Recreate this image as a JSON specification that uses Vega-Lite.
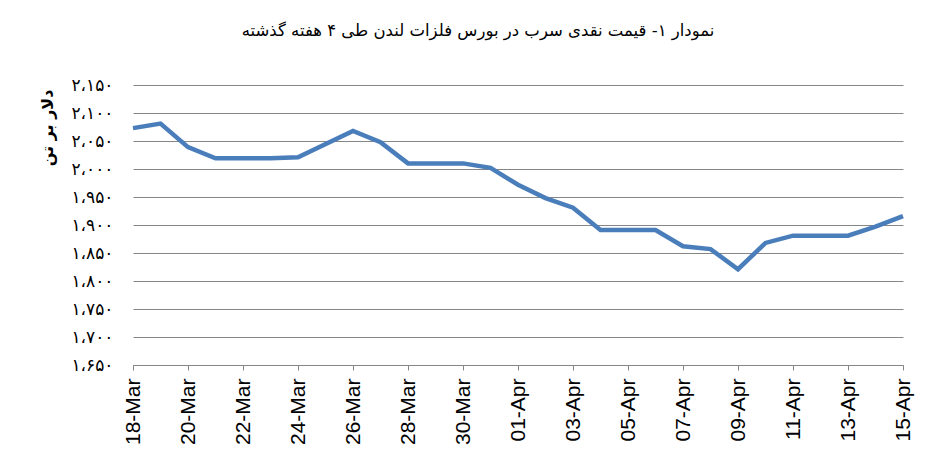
{
  "$schema": "https://vega.github.io/schema/vega-lite/v6.json",
  "width": 770,
  "height": 280,
  "autosize": {"type": "none"},
  "padding": {"left": 133, "top": 85, "right": 46, "bottom": 101},
  "background": "white",
  "title": {
    "text": "نمودار ۱- قیمت نقدی سرب  در بورس فلزات لندن طی ۴ هفته گذشته",
    "font": "DejaVu Sans",
    "fontSize": 16.5,
    "fontWeight": "normal",
    "color": "black",
    "anchor": "middle",
    "dx": -40,
    "offset": 37
  },
  "config": {"view": {"stroke": null}},
  "data": {
    "values": [
      {"date": "2015-03-18", "price": 2073},
      {"date": "2015-03-19", "price": 2081},
      {"date": "2015-03-20", "price": 2039},
      {"date": "2015-03-21", "price": 2019},
      {"date": "2015-03-22", "price": 2019},
      {"date": "2015-03-23", "price": 2019},
      {"date": "2015-03-24", "price": 2021},
      {"date": "2015-03-26", "price": 2068},
      {"date": "2015-03-27", "price": 2048},
      {"date": "2015-03-28", "price": 2010},
      {"date": "2015-03-29", "price": 2010},
      {"date": "2015-03-30", "price": 2010},
      {"date": "2015-03-31", "price": 2002},
      {"date": "2015-04-01", "price": 1972},
      {"date": "2015-04-02", "price": 1948},
      {"date": "2015-04-03", "price": 1931},
      {"date": "2015-04-04", "price": 1891},
      {"date": "2015-04-05", "price": 1891},
      {"date": "2015-04-06", "price": 1891},
      {"date": "2015-04-07", "price": 1862},
      {"date": "2015-04-08", "price": 1857},
      {"date": "2015-04-09", "price": 1821},
      {"date": "2015-04-10", "price": 1868},
      {"date": "2015-04-11", "price": 1881},
      {"date": "2015-04-12", "price": 1881},
      {"date": "2015-04-13", "price": 1881},
      {"date": "2015-04-14", "price": 1897},
      {"date": "2015-04-15", "price": 1916}
    ]
  },
  "mark": {"type": "line", "color": "#4A7EBB", "strokeWidth": 4.5, "strokeJoin": "miter"},
  "encoding": {
    "x": {
      "field": "date",
      "type": "temporal",
      "scale": {
        "type": "utc",
        "domain": [
          {"year": 2015, "month": 3, "date": 18, "utc": true},
          {"year": 2015, "month": 4, "date": 15, "utc": true}
        ],
        "nice": false
      },
      "axis": {
        "title": null,
        "values": [
          {"year": 2015, "month": 3, "date": 18, "utc": true},
          {"year": 2015, "month": 3, "date": 20, "utc": true},
          {"year": 2015, "month": 3, "date": 22, "utc": true},
          {"year": 2015, "month": 3, "date": 24, "utc": true},
          {"year": 2015, "month": 3, "date": 26, "utc": true},
          {"year": 2015, "month": 3, "date": 28, "utc": true},
          {"year": 2015, "month": 3, "date": 30, "utc": true},
          {"year": 2015, "month": 4, "date": 1, "utc": true},
          {"year": 2015, "month": 4, "date": 3, "utc": true},
          {"year": 2015, "month": 4, "date": 5, "utc": true},
          {"year": 2015, "month": 4, "date": 7, "utc": true},
          {"year": 2015, "month": 4, "date": 9, "utc": true},
          {"year": 2015, "month": 4, "date": 11, "utc": true},
          {"year": 2015, "month": 4, "date": 13, "utc": true},
          {"year": 2015, "month": 4, "date": 15, "utc": true}
        ],
        "labelExpr": "utcFormat(datum.value, '%d-%b')",
        "labelAngle": -90,
        "labelAlign": "right",
        "labelBaseline": "middle",
        "labelFont": "Liberation Sans",
        "labelFontSize": 21,
        "labelColor": "black",
        "labelPadding": 8,
        "labelOverlap": false,
        "labelFlush": false,
        "grid": false,
        "domainColor": "#868686",
        "tickColor": "#868686",
        "tickSize": 5
      }
    },
    "y": {
      "field": "price",
      "type": "quantitative",
      "scale": {"domain": [1650, 2150], "nice": false, "zero": false},
      "axis": {
        "title": "دلار بر تن",
        "titleFont": "DejaVu Sans",
        "titleFontSize": 16,
        "titleFontWeight": "bold",
        "titleColor": "black",
        "titleAngle": -90,
        "titleAlign": "right",
        "titleBaseline": "middle",
        "titleX": -86,
        "titleY": 4,
        "values": [1650, 1700, 1750, 1800, 1850, 1900, 1950, 2000, 2050, 2100, 2150],
        "labelExpr": "datum.value == 1650 ? '۱،۶۵۰' : datum.value == 1700 ? '۱،۷۰۰' : datum.value == 1750 ? '۱،۷۵۰' : datum.value == 1800 ? '۱،۸۰۰' : datum.value == 1850 ? '۱،۸۵۰' : datum.value == 1900 ? '۱،۹۰۰' : datum.value == 1950 ? '۱،۹۵۰' : datum.value == 2000 ? '۲،۰۰۰' : datum.value == 2050 ? '۲،۰۵۰' : datum.value == 2100 ? '۲،۱۰۰' : '۲،۱۵۰'",
        "labelFont": "DejaVu Sans",
        "labelFontSize": 17,
        "labelColor": "black",
        "labelPadding": 20,
        "ticks": false,
        "domain": false,
        "grid": true,
        "gridColor": "#868686",
        "gridWidth": 1
      }
    }
  }
}
